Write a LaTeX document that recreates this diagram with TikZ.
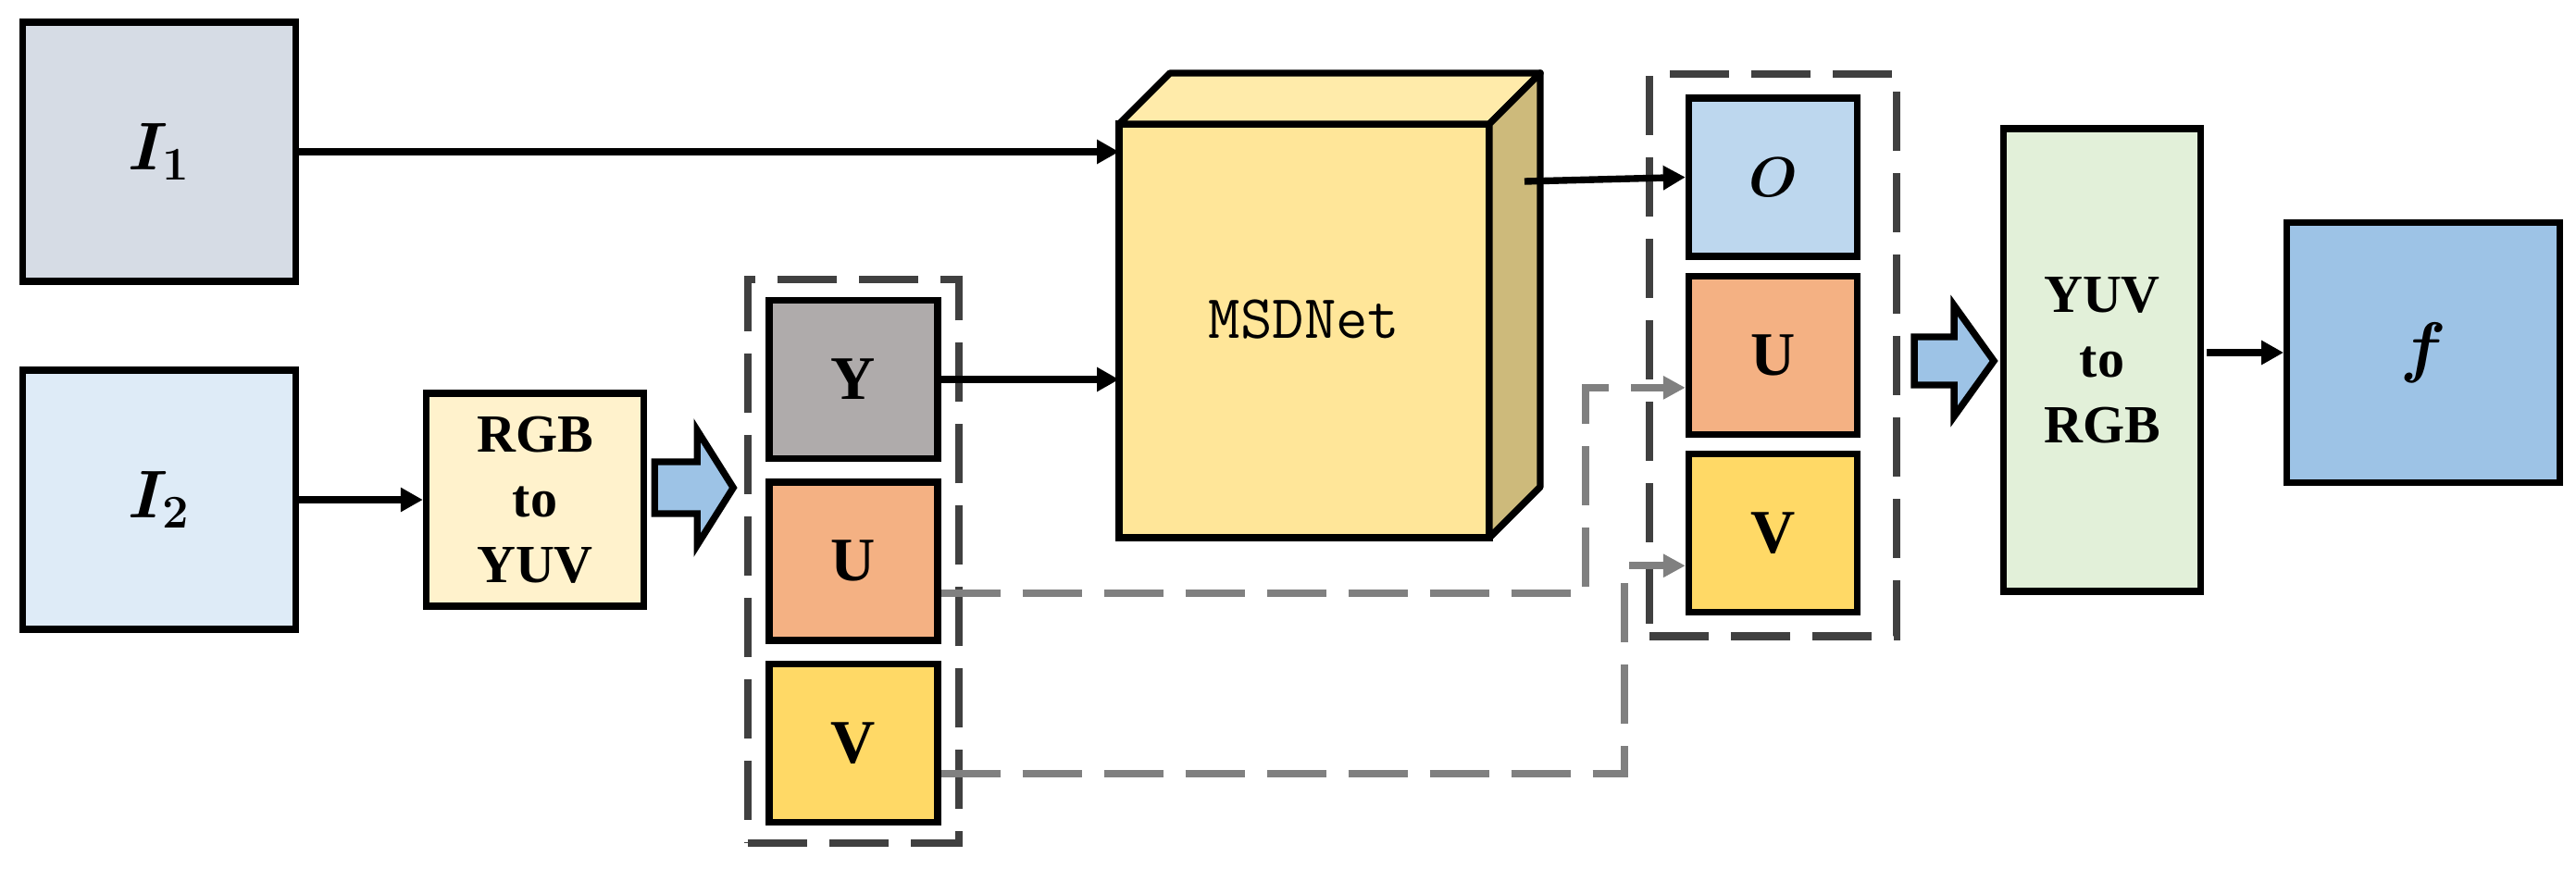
\documentclass[tikz,border=0pt]{standalone}
\usepackage{amsmath}
\usepackage{bm}
\usepackage{fontspec}
\setmainfont{Liberation Serif}
\usetikzlibrary{arrows.meta, positioning, fit}
\definecolor{inone}{RGB}{214, 220, 229}
\definecolor{intwo}{RGB}{222, 235, 247}
\definecolor{convin}{RGB}{255, 242, 204}
\definecolor{convout}{RGB}{226, 240, 217}
\definecolor{chany}{RGB}{175, 171, 171}
\definecolor{chanu}{RGB}{244, 177, 131}
\definecolor{chanv}{RGB}{255, 217, 102}
\definecolor{chano}{RGB}{189, 215, 238}
\definecolor{netfront}{RGB}{255, 230, 153}
\definecolor{nettop}{RGB}{255, 235, 170}
\definecolor{netside}{RGB}{205, 186, 123}
\definecolor{arrowblue}{RGB}{157, 195, 230}
\definecolor{boxgrey}{RGB}{64, 64, 64}
\definecolor{linegrey}{RGB}{128, 128, 128}

\begin{document}
\begin{tikzpicture}[
    block/.style={rectangle, draw, line width=2.1pt, align=center, inner sep=0pt},
    img/.style={block, minimum width=2.95cm, minimum height=2.8cm, font=\fontsize{20}{24}\selectfont},
    chan/.style={block, minimum width=1.82cm, minimum height=1.71cm, font=\fontsize{19}{22}\selectfont\bfseries},
    conv/.style={block, font=\fontsize{16.5}{20}\selectfont\bfseries},
    group/.style={draw=boxgrey, line width=2.3pt, dash pattern=on 0.64cm off 0.24cm, inner sep=0.19cm},
    trans/.style={-{Triangle[length=0.24cm, width=0.25cm]}, line width=2.1pt},
    skipline/.style={-{Triangle[length=0.24cm, width=0.24cm]}, draw=linegrey, line width=2.3pt, dash pattern=on 0.64cm off 0.24cm},
    face/.style={draw, line width=2.1pt, line join=round},
    fat/.style={draw, line width=2.1pt, fill=arrowblue}]

    \useasboundingbox (0,0) rectangle (27.83,-9.38);

    % Inputs
    \node[img, fill=inone] (imgone) at (1.72,-1.64) {$\bm{I_1}$};
    \node[img, fill=intwo] (imgtwo) at (1.72,-5.40) {$\bm{I_2}$};
    \node[conv, fill=convin, minimum width=2.35cm, minimum height=2.3cm] (rgbyuv) at (5.78,-5.40) {RGB\\to\\YUV};

    % Channels of I2
    \node[chan, fill=chany] (chy) at (9.22,-4.10) {Y};
    \node[chan, fill=chanu, below=0.18cm of chy] (chu) {U};
    \node[chan, fill=chanv, below=0.18cm of chu] (chv) {V};
    \node[group, fit=(chy)(chv)] (ingroup) {};

    % Network
    \node[block, fill=netfront, outer sep=0pt, minimum width=4cm, minimum height=4.47cm] (net) at (14.09,-3.575) {};
    \draw[face, fill=nettop] (net.north west) -- ++(0.55,0.55) -- ++(4,0) -- (net.north east) -- cycle;
    \draw[face, fill=netside] (net.north east) -- ++(0.55,0.55) -- ++(0,-4.47) -- (net.south east) -- cycle;
    \node[font=\fontsize{19}{22}\selectfont\ttfamily] (netname) at ([yshift=0.12cm]net.center) {MSDNet};
    \coordinate (netout) at (16.47,-1.96);

    % Output channels
    \node[chan, fill=chano] (outo) at (19.155,-1.915) {$\bm{O}$};
    \node[chan, fill=chanu, below=0.14cm of outo] (outu) {U};
    \node[chan, fill=chanv, below=0.14cm of outu] (outv) {V};
    \node[group, fit=(outo)(outv), inner xsep=0.39cm, inner ysep=0.22cm] (outgroup) {};

    % Back to RGB
    \node[conv, fill=convout, minimum width=2.125cm, minimum height=5cm] (yuvrgb) at (22.71,-3.89) {YUV\\to\\RGB};
    \node[img, fill=arrowblue, minimum width=2.945cm, minimum height=2.805cm] (fused) at (26.18,-3.81) {$\bm{f}$};

    % Transitions
    \draw[trans] (imgone.east) -- (imgone.east -| net.west);
    \draw[trans] (imgtwo) -- (rgbyuv);
    \draw[trans] (chy.east) -- (chy.east -| net.west);
    \draw[trans] (netout) -- (outo.west);
    \draw[trans] ([xshift=0.03cm]yuvrgb.east |- fused.west) -- (fused.west);

    % Skip paths for U and V
    \draw[skipline] ([yshift=-0.35cm]chu.east) -| ([xshift=-1.08cm,yshift=-0.35cm]outu.west) -- ([yshift=-0.35cm]outu.west);
    \draw[skipline] ([yshift=-0.33cm]chv.east) -| ([xshift=-0.66cm,yshift=-0.35cm]outv.west) -- ([yshift=-0.35cm]outv.west);

    % Block arrows
    \draw[fat] ([xshift=0.08cm,yshift=0.41cm]rgbyuv.east) -- ++(0.46,0) -- ++(0,0.34) -- ++(0.39,-0.62) -- ++(-0.39,-0.62) -- ++(0,0.34) -- ++(-0.46,0) -- cycle;
    \draw[fat] ([xshift=-0.93cm,yshift=0.25cm]yuvrgb.west) -- ++(0.43,0) -- ++(0,0.34) -- ++(0.43,-0.6) -- ++(-0.43,-0.6) -- ++(0,0.34) -- ++(-0.43,0) -- cycle;
\end{tikzpicture}
\end{document}
